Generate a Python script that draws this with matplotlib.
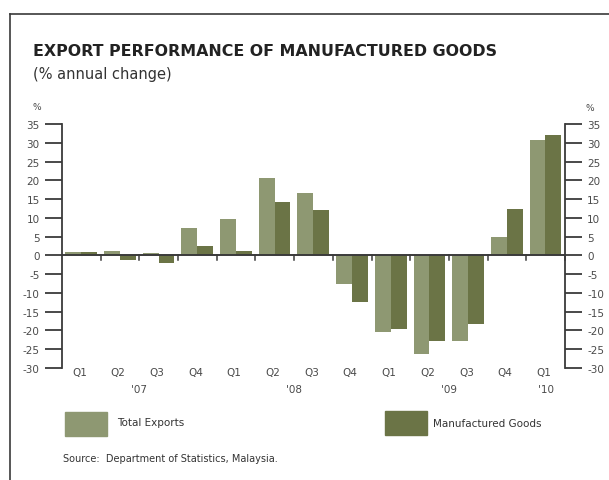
import matplotlib
matplotlib.use("Agg")
import matplotlib.pyplot as plt
from matplotlib.lines import Line2D
from matplotlib.patches import Rectangle
import numpy as np

plt.rcParams['font.family'] = ['DejaVu Sans']
plt.rcParams['axes.unicode_minus'] = False

quarters = ["Q1", "Q2", "Q3", "Q4", "Q1", "Q2", "Q3", "Q4", "Q1", "Q2", "Q3", "Q4", "Q1"]
years = ["'07", "'08", "'09", "'10"]
year_spans = [(0, 4), (4, 8), (8, 12), (12, 13)]
total_exports = [1.0, 1.2, 0.7, 7.4, 9.8, 20.7, 16.7, -7.7, -20.3, -26.4, -22.7, 5.0, 30.8]
manufactured = [1.0, -1.1, -1.9, 2.6, 1.2, 14.3, 12.2, -12.5, -19.7, -22.7, -18.4, 12.4, 32.2]
yticks = list(range(-30, 40, 5))

light = "#8e9872"
dark = "#6b7446"
ink = "#333333"
label_col = "#4a4a4a"
axis_col = "#3a3a3a"

W, H = 609, 481
fig = plt.figure(figsize=(W / 100, H / 100), dpi=100)
fig.patch.set_facecolor("white")

def fx(px):
    return px / W

def fy(py):
    return 1 - py / H

# outer frame (top and left edges)
fig.add_artist(Line2D([fx(10), 1.0], [fy(15), fy(15)], color=axis_col, lw=1.2))
fig.add_artist(Line2D([fx(10), fx(10)], [fy(15), 0.0], color=axis_col, lw=1.2))

fig.text(fx(33), fy(51), "EXPORT PERFORMANCE OF MANUFACTURED GOODS",
         fontsize=11.4, fontweight="bold", color="#222222", va="center", ha="left")
fig.text(fx(33), fy(75), "(% annual change)", fontsize=10.5, color=ink,
         va="center", ha="left")

ax = fig.add_axes([fx(62), fy(369), fx(565) - fx(62), fy(125) - fy(369)])
n = len(quarters)
x = np.arange(n)
bw = 0.41
ax.bar(x + 0.085, total_exports, width=bw, align="edge", color=light, zorder=2)
ax.bar(x + 0.085 + bw, manufactured, width=bw, align="edge", color=dark, zorder=2)

ax.set_xlim(0, n)
ax.set_ylim(-30, 35)
ax.axhline(0, color=axis_col, lw=1.4, zorder=3)

for s in ["top", "bottom"]:
    ax.spines[s].set_visible(False)
for s in ["left", "right"]:
    ax.spines[s].set_color(axis_col)
    ax.spines[s].set_linewidth(1.3)

ax.set_yticks(yticks)
ax.set_yticklabels([str(v) for v in yticks])
ax.tick_params(axis="y", which="both", left=True, right=True, labelleft=True,
               labelright=True, direction="out", length=12, width=1.3,
               color=axis_col, labelcolor=label_col, labelsize=7.5, pad=4)
ax.set_xticks([])

# category boundary ticks on the zero line
for b in range(1, n + 1):
    ax.plot([b, b], [0, -1.3], color=axis_col, lw=1.1, zorder=3, clip_on=False)

# quarter and year labels
for i, q in enumerate(quarters):
    ax.text(i + 0.45, -31.1, q, ha="center", va="center", fontsize=7.5, color=label_col)
for yl, (a, b) in zip(years, year_spans):
    ax.text((a + b) / 2, -35.6, yl, ha="center", va="center", fontsize=7.5, color=label_col)

fig.text(fx(37), fy(108), "%", fontsize=6.5, color=label_col, ha="center", va="center")
fig.text(fx(590), fy(109), "%", fontsize=6.5, color=label_col, ha="center", va="center")

# legend
fig.add_artist(Rectangle((fx(65), fy(437)), fx(107) - fx(65), fy(413) - fy(437),
                         transform=fig.transFigure, color=light))
fig.text(fx(117), fy(423), "Total Exports", fontsize=7.5, color=ink, va="center")
fig.add_artist(Rectangle((fx(385), fy(436)), fx(427) - fx(385), fy(412) - fy(436),
                         transform=fig.transFigure, color=dark))
fig.text(fx(433), fy(424), "Manufactured Goods", fontsize=7.5, color=ink, va="center")

fig.text(fx(63), fy(459), "Source:  Department of Statistics, Malaysia.",
         fontsize=7, color=ink, va="center")

fig.savefig("out.png", dpi=100)
